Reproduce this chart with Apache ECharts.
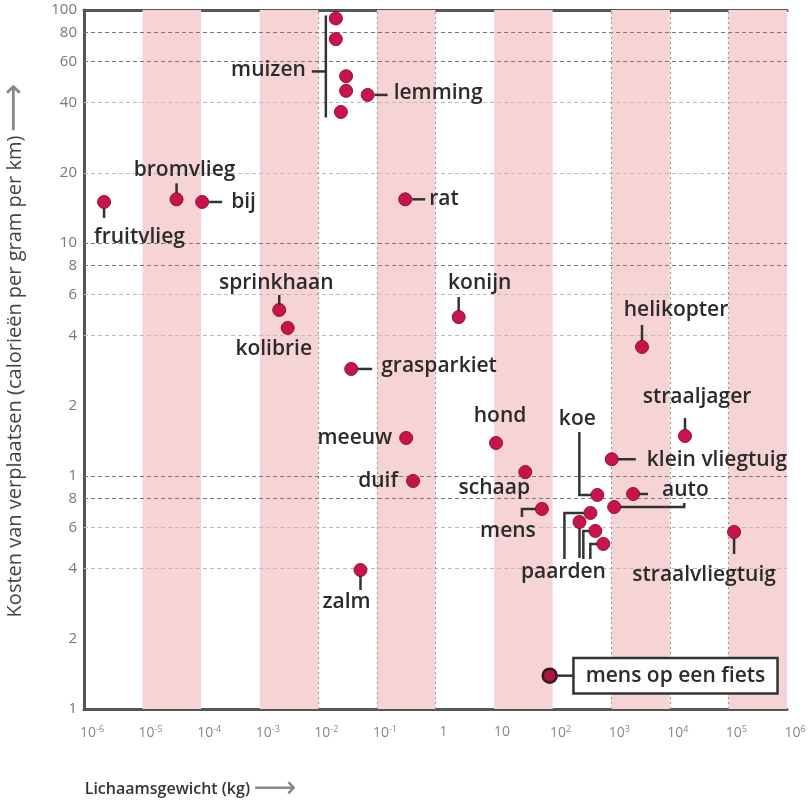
<!DOCTYPE html>
<html>
<head>
<meta charset="utf-8">
<script src="https://cdn.jsdelivr.net/npm/echarts@6/dist/echarts.min.js"></script>
<style>
  html, body { margin: 0; padding: 0; background: #fff; }
  #chart { width: 809px; height: 801px; }
</style>
</head>
<body>
<div id="chart"></div>
<script>
// body mass (kg) and cost of moving (calories per gram per km)
const names = ['fruitvlieg', 'bromvlieg', 'bij', 'muis', 'muis', 'muis', 'muis', 'muis', 'lemming', 'rat',
  'sprinkhaan', 'kolibrie', 'konijn', 'grasparkiet', 'helikopter', 'straaljager', 'hond', 'meeuw',
  'klein vliegtuig', 'duif', 'schaap', 'mens', 'koe', 'auto', 'auto', 'paard', 'paard', 'paard', 'paard',
  'straalvliegtuig', 'zalm']
const massKg = [2.2e-6, 3.8e-5, 1.04e-4, 0.0199, 0.0199, 0.0298, 0.0298, 0.0243, 0.0695, 0.304,
  2.15e-3, 3.0e-3, 2.49, 0.0364, 3350, 18150, 10.8, 0.316,
  1020, 0.414, 34.1, 65.6, 579, 2360, 1123, 441, 287, 535, 732,
  125000, 0.0524]
const costCal = [15.0, 15.4, 15.0, 92, 75, 52, 45, 36.5, 43.2, 15.4,
  5.16, 4.32, 4.81, 2.88, 3.58, 1.485, 1.386, 1.456,
  1.18, 0.952, 1.04, 0.722, 0.829, 0.837, 0.736, 0.694, 0.635, 0.581, 0.511,
  0.575, 0.395]

const bikeName = 'mens op een fiets'
const bikeMass = [89]
const bikeCost = [0.139]

// axis ticks
const xTickValues = [1e-6, 1e-5, 1e-4, 1e-3, 1e-2, 1e-1, 1, 10, 1e2, 1e3, 1e4, 1e5, 1e6]
const xTickLabels = ['10{s|-6}', '10{s|-5}', '10{s|-4}', '10{s|-3}', '10{s|-2}', '10{s|-1}', '1', '10',
  '10{s|2}', '10{s|3}', '10{s|4}', '10{s|5}', '10{s|6}']
const yTickValues = [0.1, 0.2, 0.4, 0.6, 0.8, 1, 2, 4, 6, 8, 10, 20, 40, 60, 80, 100]
const yTickLabels = ['1', '2', '4', '6', '8', '1', '2', '4', '6', '8', '10', '20', '40', '60', '80', '100']
const yGridDark = [0.8, 1, 8, 10, 60, 80]
const yGridLight = [0.4, 0.6, 4, 6, 20, 40]
const xGridValues = [1e-4, 1e-3, 1e-2, 1e-1, 1, 1e3, 1e4, 1e5]
const bandStarts = [1e-5, 1e-3, 1e-1, 10, 1e3, 1e5]

// label placement relative to the dot (pixels)
const labelLayout = [
  { i: 0, text: 'fruitvlieg', dx: -10, dy: 35, align: 'left', lines: [[[0, 6], [0, 16]]] },
  { i: 1, text: 'bromvlieg', dx: 8, dy: -29, align: 'center', lines: [[[0, -6], [0, -16]]] },
  { i: 2, text: 'bij', dx: 29, dy: 0, align: 'left', lines: [[[7, 0], [20, 0]]] },
  { i: 3, text: 'muizen', dx: -30, dy: 52, align: 'right', lines: [[[-10, -3], [-10, 99]], [[-24, 53], [-10, 53]]] },
  { i: 8, text: 'lemming', dx: 26, dy: -2, align: 'left', lines: [[[7, 0], [20, 0]]] },
  { i: 9, text: 'rat', dx: 24, dy: 0, align: 'left', lines: [[[7, 0], [20, 0]]] },
  { i: 10, text: 'sprinkhaan', dx: -3, dy: -27, align: 'center', lines: [[[0, -5], [0, -15]]] },
  { i: 11, text: 'kolibrie', dx: -14, dy: 21, align: 'center' },
  { i: 12, text: 'konijn', dx: 21, dy: -34, align: 'center', lines: [[[0, -6], [0, -20]]] },
  { i: 13, text: 'grasparkiet', dx: 30, dy: -3, align: 'left', lines: [[[6, 0], [21, 0]]] },
  { i: 14, text: 'helikopter', dx: 34, dy: -37, align: 'center', lines: [[[0, -6], [0, -22]]] },
  { i: 15, text: 'straaljager', dx: 12, dy: -39, align: 'center', lines: [[[0, -6], [0, -18]]] },
  { i: 16, text: 'hond', dx: 4, dy: -27, align: 'center' },
  { i: 17, text: 'meeuw', dx: -14, dy: 0, align: 'right' },
  { i: 18, text: 'klein vliegtuig', dx: 35, dy: 1, align: 'left', lines: [[[6, 0], [24, 0]]] },
  { i: 19, text: 'duif', dx: -15, dy: 0, align: 'right' },
  { i: 20, text: 'schaap', dx: -31, dy: 16, align: 'center' },
  { i: 21, text: 'mens', dx: -34, dy: 22, align: 'center', lines: [[[-6, 0], [-20, 0], [-20, 8]]] },
  { i: 22, text: 'koe', dx: -20, dy: -76, align: 'center', lines: [[[-6, 0], [-18, 0], [-18, -63]]] },
  { i: 23, text: 'auto', dx: 29, dy: -4, align: 'left', lines: [[[6, 0], [15, 0]]] },
  { i: 24, lines: [[[6, 0], [70, 0], [70, -4]]] },
  { i: 25, text: 'paarden', dx: -27, dy: 59, align: 'center', lines: [[[-6, 0], [-26, 0], [-26, 46]]] },
  { i: 26, lines: [[[0, 6], [0, 36]]] },
  { i: 27, lines: [[[-6, 0], [-12, 0], [-12, 28]]] },
  { i: 28, lines: [[[-6, 0], [-13, 0], [-13, 15]]] },
  { i: 29, text: 'straalvliegtuig', dx: -30, dy: 43, align: 'center', lines: [[[0, 6], [0, 22]]] },
  { i: 30, text: 'zalm', dx: -14, dy: 32, align: 'center', lines: [[[0, 6], [0, 20]]] }
]

const FONT = '"Open Sans", "Noto Sans", sans-serif'
const INK = '#2b2b2b'
const LABEL_FONT = '600 21px ' + FONT

const chart = echarts.init(document.getElementById('chart'))

function pickLabel(values, labels, v) {
  const k = values.findIndex(t => Math.abs(t - v) / t < 1e-6)
  return k >= 0 ? labels[k] : ''
}

chart.setOption({
  animation: false,
  grid: { left: 84, right: 22, top: 10, bottom: 92, outerBoundsMode: 'none' },
  xAxis: [{
    type: 'log',
    logBase: 10,
    min: 1e-6,
    max: 1e6,
    name: '{t|Lichaamsgewicht (kg)} {a|⟶}',
    nameLocation: 'middle',
    nameGap: 70,
    nameTextStyle: {
      padding: [0, 490, 0, 0],
      rich: {
        t: { fontFamily: FONT, fontSize: 16, fontWeight: 600, color: '#333', lineHeight: 20 },
        a: { fontFamily: 'DejaVu Sans', fontSize: 30, color: '#888', lineHeight: 20 }
      }
    },
    axisLine: { show: true, onZero: false, lineStyle: { color: '#555', width: 3 } },
    axisTick: { show: false },
    splitLine: { show: false },
    axisLabel: {
      customValues: xTickValues,
      formatter: v => pickLabel(xTickValues, xTickLabels, v),
      margin: 16,
      padding: [0, 0, 0, 16],
      color: '#888',
      fontFamily: FONT,
      fontSize: 14,
      rich: {
        s: { fontFamily: FONT, fontSize: 9, color: '#888', verticalAlign: 'top', padding: [0, 0, 8, 0] }
      }
    }
  }, {
    type: 'log',
    logBase: 10,
    min: 1e-6,
    max: 1e6,
    position: 'top',
    axisLine: { show: true, onZero: false, lineStyle: { color: '#555', width: 3 } },
    axisTick: { show: false },
    axisLabel: { show: false },
    splitLine: { show: false }
  }],
  yAxis: {
    type: 'log',
    logBase: 10,
    min: 0.1,
    max: 100,
    name: '{t|Kosten van verplaatsen (calorieën per gram per km)} {a|⟶}',
    nameLocation: 'middle',
    nameGap: 52,
    nameRotate: 90,
    nameTextStyle: {
      padding: [0, 0, 0, 18],
      rich: {
        t: { fontFamily: FONT, fontSize: 20, color: '#444' },
        a: { fontFamily: 'DejaVu Sans', fontSize: 34, color: '#888' }
      }
    },
    axisLine: { show: true, onZero: false, lineStyle: { color: '#555', width: 3 } },
    axisTick: { show: false },
    splitLine: { show: false },
    axisLabel: {
      customValues: yTickValues,
      formatter: v => pickLabel(yTickValues, yTickLabels, v),
      margin: 7,
      color: '#777',
      fontFamily: FONT,
      fontSize: 15
    }
  },
  series: [{
    // pink decade bands
    type: 'scatter',
    data: [],
    z: 0,
    silent: true,
    markArea: {
      silent: true,
      itemStyle: { color: '#f6d4d6' },
      data: bandStarts.map(s => [{ xAxis: s }, { xAxis: s * 10 }])
    }
  }, {
    // grid lines
    type: 'scatter',
    data: [],
    z: 1,
    silent: true,
    markLine: {
      silent: true,
      symbol: 'none',
      label: { show: false },
      data: yGridDark.map(v => ({ yAxis: v, lineStyle: { color: '#777', type: [4, 3], width: 1.2 } }))
        .concat(yGridLight.map(v => ({ yAxis: v, lineStyle: { color: '#bbb', type: [4, 3], width: 1 } })))
        .concat(xGridValues.map(v => ({ xAxis: v, lineStyle: { color: '#999', type: [2, 3], width: 1.1 } })))
    }
  }, {
    name: 'dieren en voertuigen',
    type: 'scatter',
    z: 5,
    symbol: 'circle',
    symbolSize: 13,
    itemStyle: { color: '#c8144a', borderColor: '#8e1035', borderWidth: 1, opacity: 1 },
    emphasis: { disabled: true },
    data: massKg.map((m, k) => ({ name: names[k], value: [m, costCal[k]] }))
  }, {
    name: bikeName,
    type: 'scatter',
    z: 5,
    symbol: 'circle',
    symbolSize: 14,
    itemStyle: { color: '#a8173f', borderColor: '#3b1620', borderWidth: 2.5, opacity: 1 },
    emphasis: { disabled: true },
    data: bikeMass.map((m, k) => [m, bikeCost[k]])
  }]
})

// labels and leader lines, placed next to the dots
const graphics = []
const lineStyle = { stroke: '#333', lineWidth: 2.5, fill: null }
labelLayout.forEach(a => {
  const p = chart.convertToPixel({ seriesIndex: 2 }, [massKg[a.i], costCal[a.i]])
  ;(a.lines || []).forEach(pts => {
    graphics.push({
      type: 'polyline',
      z: 10,
      shape: { points: pts.map(([dx, dy]) => [p[0] + dx, p[1] + dy]) },
      style: lineStyle
    })
  })
  if (a.text) {
    graphics.push({
      type: 'text',
      z: 11,
      x: p[0] + a.dx,
      y: p[1] + a.dy,
      style: {
        text: a.text,
        fill: INK,
        font: LABEL_FONT,
        align: a.align,
        verticalAlign: 'middle'
      }
    })
  }
})

const bp = chart.convertToPixel({ seriesIndex: 3 }, [bikeMass[0], bikeCost[0]])
graphics.push({
  type: 'polyline',
  z: 10,
  shape: { points: [[bp[0] + 7, bp[1]], [bp[0] + 25, bp[1]]] },
  style: lineStyle
})
graphics.push({
  type: 'text',
  z: 11,
  x: bp[0] + 25,
  y: bp[1],
  style: {
    text: bikeName,
    fill: INK,
    font: LABEL_FONT,
    align: 'left',
    verticalAlign: 'middle',
    backgroundColor: '#fff',
    borderColor: '#333',
    borderWidth: 2.5,
    padding: [6, 11, 6, 11]
  }
})

chart.setOption({ graphic: graphics })
</script>
</body>
</html>
